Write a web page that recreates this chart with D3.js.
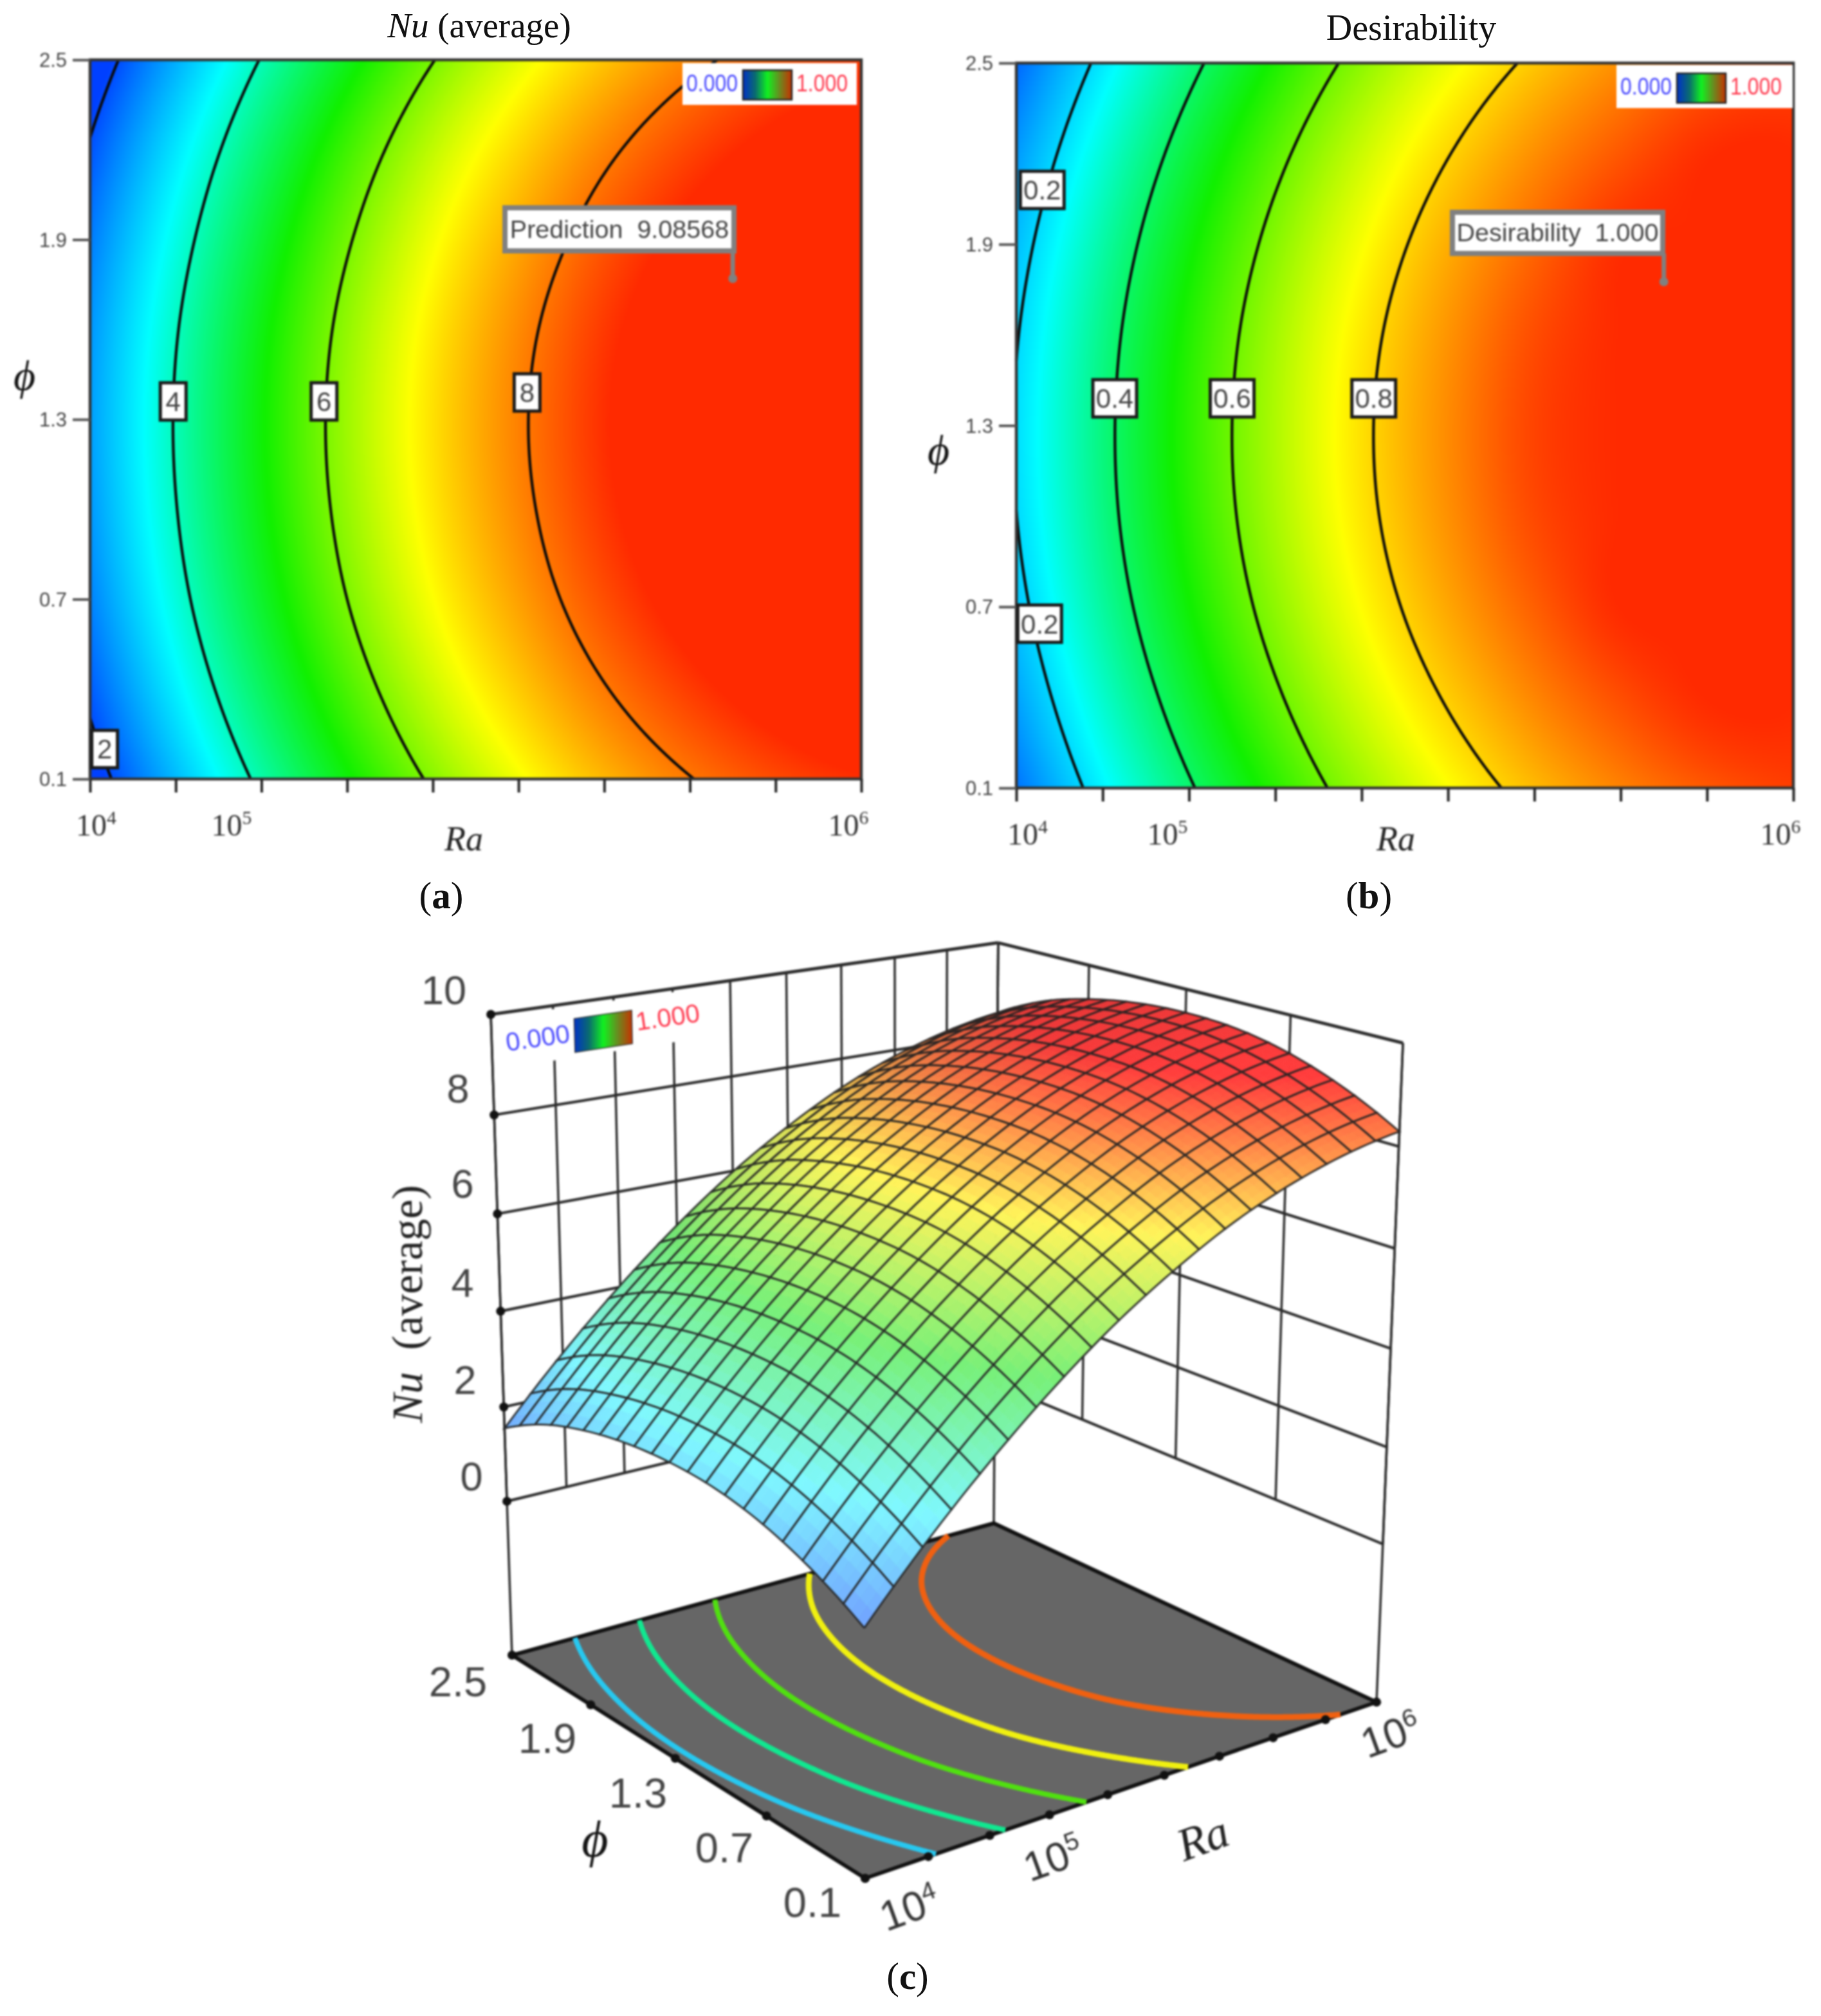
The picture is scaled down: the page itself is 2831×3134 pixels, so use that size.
<!DOCTYPE html>
<html><head><meta charset="utf-8">
<script src="https://cdn.jsdelivr.net/npm/d3@7/dist/d3.min.js"></script>
<style>
html,body{margin:0;padding:0;background:#fff}
svg{display:block}
.blur{filter:blur(1.5px)}
</style></head><body>
<script>
// ---------- data ----------
const raTicks=[0,1,2,3,4,5,6,7,8,9];
const phiTicks=[0.1,0.7,1.3,1.9,2.5];
const zTicks=[0,2,4,6,8,10];
const phiGrid=[0.1,0.4,0.7,1.0,1.3,1.6,1.9,2.2,2.5];
// Nu (average): one row per phi value, one column per Ra tick
const nuPhi01=[1.66,2.97,4.14,5.18,6.09,6.85,7.49,7.98,8.34,8.57];
const nuPhi04=[2.14,3.45,4.62,5.66,6.57,7.33,7.97,8.46,8.82,9.05];
const nuPhi07=[2.48,3.79,4.96,6.00,6.91,7.67,8.31,8.80,9.16,9.39];
const nuPhi10=[2.67,3.98,5.15,6.19,7.10,7.86,8.50,8.99,9.35,9.58];
const nuPhi13=[2.73,4.04,5.21,6.25,7.16,7.92,8.56,9.05,9.41,9.64];
const nuPhi16=[2.65,3.96,5.13,6.17,7.08,7.84,8.48,8.97,9.33,9.56];
const nuPhi19=[2.42,3.73,4.90,5.94,6.85,7.61,8.25,8.74,9.10,9.33];
const nuPhi22=[2.06,3.37,4.54,5.58,6.49,7.25,7.89,8.38,8.74,8.97];
const nuPhi25=[1.55,2.86,4.03,5.07,5.98,6.74,7.38,7.87,8.23,8.46];
const nuRows=[nuPhi01,nuPhi04,nuPhi07,nuPhi10,nuPhi13,nuPhi16,nuPhi19,nuPhi22,nuPhi25];
const surfaceShift=[-.28,-.20,-.15,-.12,-.12,-.10,-.05,0,0];
const surfRows=nuRows.map((r,i)=>r.map(v=>v+surfaceShift[i]));
// floor contours of panel (c), read relative to the same table, per phi row
const floorShift=[-.17,-.13,-.09,-.07,-.05,-.03,-.01,0,0];
const floorRows=nuRows.map((r,i)=>r.map(v=>v+floorShift[i]));
// Desirability
const dPhi01=[.066,.237,.390,.526,.645,.746,.830,.896,.945,.977];
const dPhi04=[.128,.299,.452,.588,.707,.808,.892,.958,1,1];
const dPhi07=[.173,.344,.497,.633,.752,.853,.937,1,1,1];
const dPhi10=[.199,.370,.523,.659,.778,.879,.963,1,1,1];
const dPhi13=[.206,.377,.530,.666,.785,.886,.970,1,1,1];
const dPhi16=[.195,.366,.519,.655,.774,.875,.959,1,1,1];
const dPhi19=[.165,.336,.489,.625,.744,.845,.929,.995,1,1];
const dPhi22=[.117,.288,.441,.577,.696,.797,.881,.947,.996,1];
const dPhi25=[.051,.222,.375,.511,.630,.731,.815,.881,.930,.962];
const dRows=[dPhi01,dPhi04,dPhi07,dPhi10,dPhi13,dPhi16,dPhi19,dPhi22,dPhi25];
const nuLevels=[2,4,6,8];
const dLevels=[0.2,0.4,0.6,0.8];
const floorLevels=[2.95,4.25,5.6,6.97,8.25];
const floorColors=['#27c8f0','#10e890','#50e010','#f0f010','#f06010'];
const rainbow=['#0040ff','#00ffff','#10f000','#ffff00','#ff2a00'];
const nuStops=[1.9,3.575,5.25,6.925,8.6];
const dStops=[0,0.25,0.5,0.75,1];
const surfStops=[1,3,5,7,9];
const surfColors=['#6e8cff','#7ff8ff','#78f078','#fff45a','#ff3c3c'];
const legendStops=['#0030c8','#0a6a70','#10f020','#6a8a20','#c83000'];
const nuLabels=[{t:'2',ra:.17,phi:.20},{t:'4',ra:.97,phi:1.36},{t:'6',ra:2.73,phi:1.36},{t:'8',ra:5.10,phi:1.39}];
const dLabels=[{t:'0.2',ra:.30,phi:2.08},{t:'0.2',ra:.27,phi:.644},{t:'0.4',ra:1.14,phi:1.39},{t:'0.6',ra:2.5,phi:1.39},{t:'0.8',ra:4.14,phi:1.39}];
const raLabelsA=[{e:'4',ra:.07},{e:'5',ra:1.65},{e:'6',ra:8.85}];
const raLabelsB=[{e:'4',ra:.13},{e:'5',ra:1.75},{e:'6',ra:8.85}];

// ---------- helpers ----------
const svg=d3.select('body').append('svg').attr('width',2831).attr('height',3134).attr('viewBox','0 0 2831 3134');
const SANS='"Liberation Sans",Arial,sans-serif', SERIF='"Liberation Serif","Times New Roman",serif';
function cr(p0,p1,p2,p3,t){return .5*((2*p1)+(-p0+p2)*t+(2*p0-5*p1+4*p2-p3)*t*t+(-p0+3*p1-3*p2+p3)*t*t*t);}
function field(rows,col,rowIdx){
  const nr=rows.length,nc=rows[0].length;
  const ci=Math.min(Math.floor(col),nc-2), ri=Math.min(Math.floor(rowIdx),nr-2);
  const tc=col-ci, tr=rowIdx-ri;
  const atR=(r,c)=>r<0?3*rows[0][c]-3*rows[1][c]+rows[2][c]:r>nr-1?3*rows[nr-1][c]-3*rows[nr-2][c]+rows[nr-3][c]:rows[r][c];
  const at=(r,c)=>c<0?3*atR(r,0)-3*atR(r,1)+atR(r,2):c>nc-1?3*atR(r,nc-1)-3*atR(r,nc-2)+atR(r,nc-3):atR(r,c);
  const col4=[-1,0,1,2].map(d=>cr(at(ri+d,ci-1),at(ri+d,ci),at(ri+d,ci+1),at(ri+d,ci+2),tc));
  return cr(col4[0],col4[1],col4[2],col4[3],tr);
}
const rowOf=d3.scaleLinear([0.1,2.5],[0,8]);
function contourRuns(rows,level){
  const nx=361,ny=321,vals=new Float64Array(nx*ny);
  for(let j=0;j<ny;j++)for(let i=0;i<nx;i++)vals[j*nx+i]=field(rows,i/(nx-1)*9,j/(ny-1)*8);
  const cs=d3.contours().size([nx,ny]).thresholds([level])(Array.from(vals))[0];
  const inside=p=>p[0]>.4&&p[0]<nx-.4&&p[1]>.4&&p[1]<ny-.4;
  const toData=p=>[Math.max(0,Math.min(9,(p[0]-.5)/(nx-1)*9)),rowOf.invert(Math.max(0,Math.min(8,(p[1]-.5)/(ny-1)*8)))];
  const runs=[];
  cs.coordinates.forEach(poly=>poly.forEach(ring=>{
    let start=ring.findIndex(p=>!inside(p));
    if(start<0){runs.push(ring.map(toData));return;}
    let cur=[];
    for(let k=0;k<ring.length;k++){
      const p=ring[(start+k)%ring.length];
      if(inside(p))cur.push(toData(p));
      else{if(cur.length>1)runs.push(cur);cur=[];}
    }
    if(cur.length>1)runs.push(cur);
  }));
  return runs;
}
function powerLabel(sel,x,y,e,size,font,extra){
  const t=sel.append('text').attr('x',x).attr('y',y).attr('text-anchor','middle')
    .attr('font-family',font).attr('font-size',size).attr('fill','#333');
  if(extra)t.attr('transform',extra);
  t.append('tspan').text('10');
  t.append('tspan').attr('dy',-size*.38).attr('font-size',size*.62).text(e);
  return t;
}
const defs=svg.append('defs');
const legendGrad=defs.append('linearGradient').attr('id','legendGrad').attr('x1',0).attr('x2',1).attr('y1',0).attr('y2',0);
legendStops.forEach((c,i)=>legendGrad.append('stop').attr('offset',i/4).attr('stop-color',c));

// ---------- 2-D panels ----------
function panel(cfg){
  const g=svg.append('g');
  const x=d3.scaleLinear([0,9],[cfg.left,cfg.right]), y=d3.scaleLinear([0.1,2.5],[cfg.bottom,cfg.top]);
  const color=d3.scaleLinear().domain(cfg.stops).range(rainbow).clamp(true);
  const w=Math.round((cfg.right-cfg.left)/2), h=Math.round((cfg.bottom-cfg.top)/2);
  const cv=document.createElement('canvas');cv.width=w;cv.height=h;
  const ctx=cv.getContext('2d'),img=ctx.createImageData(w,h);
  for(let j=0;j<h;j++)for(let i=0;i<w;i++){
    const v=field(cfg.rows,(i+.5)/w*9,8-(j+.5)/h*8), c=d3.rgb(color(v)), o=4*(j*w+i);
    img.data[o]=c.r;img.data[o+1]=c.g;img.data[o+2]=c.b;img.data[o+3]=255;
  }
  ctx.putImageData(img,0,0);
  const b=g.append('g').attr('class','blur');
  b.append('image').attr('x',cfg.left).attr('y',cfg.top).attr('width',cfg.right-cfg.left).attr('height',cfg.bottom-cfg.top)
    .attr('preserveAspectRatio','none').attr('href',cv.toDataURL());
  const line=d3.line().x(d=>x(d[0])).y(d=>y(d[1]));
  cfg.levels.forEach(l=>contourRuns(cfg.rows,l).forEach(r=>b.append('path').attr('d',line(r)).attr('fill','none').attr('stroke','#0a0a0a').attr('stroke-width',4.4)));
  // frame + axes
  b.append('rect').attr('x',cfg.left).attr('y',cfg.top).attr('width',cfg.right-cfg.left).attr('height',cfg.bottom-cfg.top)
    .attr('fill','none').attr('stroke','#333').attr('stroke-width',4.5);
  b.append('g').attr('transform',`translate(0,${cfg.bottom})`).call(d3.axisBottom(x).tickValues(raTicks).tickSize(21).tickFormat('')).call(a=>{a.select('.domain').remove();a.selectAll('line').attr('stroke','#222').attr('stroke-width',4);});
  b.append('g').attr('transform',`translate(${cfg.left},0)`).call(d3.axisLeft(y).tickValues(phiTicks).tickSize(27).tickFormat('')).call(a=>{a.select('.domain').remove();a.selectAll('line').attr('stroke','#555').attr('stroke-width',4);});
  phiTicks.forEach(v=>b.append('text').attr('x',cfg.left-36).attr('y',y(v)+11).attr('text-anchor','end').attr('font-family',SANS).attr('font-size',31).attr('fill','#444').text(d3.format('.1f')(v)));
  cfg.raLabels.forEach(l=>powerLabel(b,x(l.ra),cfg.bottom+88,l.e,48,SERIF));
  b.append('text').attr('x',cfg.raTitle[0]).attr('y',cfg.raTitle[1]).attr('text-anchor','middle').attr('font-family',SERIF).attr('font-style','italic').attr('font-size',54).attr('fill','#222').text('Ra');
  b.append('text').attr('x',cfg.phiTitle[0]).attr('y',cfg.phiTitle[1]).attr('text-anchor','middle').attr('font-family',SERIF).attr('font-style','italic').attr('font-size',66).attr('fill','#111').text('ϕ');
  // contour labels
  cfg.labels.forEach(l=>{
    const bw=l.t.length>1?68:40,bh=58,cx=x(l.ra),cy=y(l.phi);
    b.append('rect').attr('x',cx-bw/2).attr('y',cy-bh/2).attr('width',bw).attr('height',bh).attr('fill','#fff').attr('stroke','#1a1a1a').attr('stroke-width',5);
    b.append('text').attr('x',cx).attr('y',cy+15).attr('text-anchor','middle').attr('font-family',SANS).attr('font-size',42).attr('fill','#444').text(l.t);
  });
  // legend
  const L=cfg.legend;
  b.append('rect').attr('x',L.x).attr('y',L.y).attr('width',L.w).attr('height',L.h).attr('fill','#fff');
  b.append('rect').attr('x',L.gx).attr('y',L.gy).attr('width',76).attr('height',46).attr('fill','url(#legendGrad)').attr('stroke','#222').attr('stroke-width',2.5);
  const legText=(s,px,col)=>b.append('text').attr('x',px).attr('y',L.gy+33).attr('text-anchor','middle').attr('font-family',SANS).attr('font-size',37)
    .attr('textLength',80).attr('lengthAdjust','spacingAndGlyphs').attr('fill',col).text(s);
  legText('0.000',L.gx-48,'#4b4bff');
  legText('1.000',L.gx+123,'#ff3b50');
  // prediction flag
  const P=cfg.flag, px=x(P.ra), py=y(P.phi);
  b.append('line').attr('x1',px).attr('x2',px).attr('y1',P.y+P.h).attr('y2',py).attr('stroke','#808080').attr('stroke-width',7);
  b.append('circle').attr('cx',px).attr('cy',py).attr('r',7).attr('fill','#808080');
  b.append('rect').attr('x',P.x).attr('y',P.y).attr('width',P.w).attr('height',P.h).attr('fill','#fff').attr('stroke','#808080').attr('stroke-width',8);
  b.append('text').attr('x',P.x+P.w/2).attr('y',P.y+P.h/2+13).attr('text-anchor','middle').attr('font-family',SANS).attr('font-size',39.5).attr('fill','#444').text(P.t);
}
panel({left:140,right:1339,top:93,bottom:1211,rows:nuRows,stops:nuStops,levels:nuLevels,labels:nuLabels,raLabels:raLabelsA,
  raTitle:[721,1322],phiTitle:[38,606],
  legend:{x:1061,y:98,w:271,h:65,gx:1155,gy:109},
  flag:{x:785,y:323,w:356,h:67,ra:7.5,phi:1.77,t:'Prediction\u00a0\u00a09.08568'}});
panel({left:1580,right:2788,top:98,bottom:1225,rows:dRows,stops:dStops,levels:dLevels,labels:dLabels,raLabels:raLabelsB,
  raTitle:[2170,1322],phiTitle:[1459,722],
  legend:{x:2513,y:101,w:274,h:67,gx:2607,gy:114},
  flag:{x:2258,y:330,w:327,h:64,ra:7.5,phi:1.776,t:'Desirability\u00a0\u00a01.000'}});

// titles & captions (crisp)
const tA=svg.append('text').attr('x',745).attr('y',58).attr('text-anchor','middle').attr('font-family',SERIF).attr('font-size',55).attr('fill','#111');
tA.append('tspan').attr('font-style','italic').text('Nu');tA.append('tspan').text(' (average)');
svg.append('text').attr('x',2194).attr('y',62).attr('text-anchor','middle').attr('font-family',SERIF).attr('font-size',56).attr('fill','#111').text('Desirability');
[['a',686,1412],['b',2128,1412],['c',1411,3092]].forEach(([c,px,py])=>{
  const t=svg.append('text').attr('x',px).attr('y',py).attr('text-anchor','middle').attr('font-family',SERIF).attr('font-size',59).attr('fill','#111');
  t.append('tspan').text('(');t.append('tspan').attr('font-weight','bold').text(c);t.append('tspan').text(')');
});

// ---------- 3-D panel ----------
const F=[1345,2920],R=[2140,2646],B=[1545,2368],Lc=[796,2573],topY=1577,VP=[1405,20974];
const dx1=R[0]-B[0],dx2=Lc[0]-B[0],dy1=R[1]-B[1],dy2=Lc[1]-B[1],sx=F[0]-R[0]+B[0]-Lc[0],sy=F[1]-R[1]+B[1]-Lc[1];
const den=dx1*dy2-dx2*dy1,hG=(sx*dy2-dx2*sy)/den,hH=(dx1*sy-sx*dy1)/den;
const hA=R[0]-F[0]+hG*R[0],hB=Lc[0]-F[0]+hH*Lc[0],hC=F[0],hD=R[1]-F[1]+hG*R[1],hE=Lc[1]-F[1]+hH*Lc[1],hF=F[1];
const lam=(topY*(hH+1)-(hE+hF))/(VP[1]-topY);
const uS=d3.scaleLinear([0,9],[0,1]),vS=d3.scaleLinear([0.1,2.5],[0,1]),wS=d3.scaleLinear([-3.33,10],[0,1]);
function project(ra,phi,z){
  const u=uS(ra),v=vS(phi),w=wS(z),hw=hG*u+hH*v+1+w*lam;
  return [(hA*u+hB*v+hC+w*lam*VP[0])/hw,(hD*u+hE*v+hF+w*lam*VP[1])/hw];
}
const c3=svg.append('g').attr('class','blur');
const seg=(a,b,sw,col)=>c3.append('line').attr('x1',a[0]).attr('y1',a[1]).attr('x2',b[0]).attr('y2',b[1]).attr('stroke',col||'#2a2a2a').attr('stroke-width',sw);
const Z0=-3.33;
// walls
zTicks.forEach(z=>{const sw=z===10?5:4.2;seg(project(0,2.5,z),project(9,2.5,z),sw);seg(project(9,2.5,z),project(9,.1,z),sw);});
raTicks.forEach(r=>seg(project(r,2.5,0),project(r,2.5,10),3.5));
phiTicks.forEach(p=>seg(project(9,p,0),project(9,p,10),3.5));
[[0,2.5],[9,2.5],[9,.1]].forEach(([r,p])=>seg(project(r,p,Z0),project(r,p,10),3.5));
// legend on the wall
const wallPoly=(r0,r1,z0,z1)=>[project(r0,2.5,z0),project(r1,2.5,z0),project(r1,2.5,z1),project(r0,2.5,z1)].map(p=>p.join(',')).join(' ');
c3.append('polygon').attr('points',wallPoly(.06,3.4,8.9,9.93)).attr('fill','#fff');
c3.append('polygon').attr('points',wallPoly(1.34,2.30,9.0,9.68)).attr('fill','url(#legendGrad)').attr('stroke','#333').attr('stroke-width',1.5);
[['0.000',838,1627,'#4b4bff'],['1.000',1040,1595,'#ff3b50']].forEach(([t,px,py,col])=>
  c3.append('text').attr('x',px).attr('y',py).attr('text-anchor','middle').attr('font-family',SANS).attr('font-size',40).attr('fill',col).attr('transform',`rotate(-8.4 ${px} ${py})`).text(t));
// floor
const floorPts=[[0,.1],[9,.1],[9,2.5],[0,2.5]].map(([r,p])=>project(r,p,Z0));
c3.append('polygon').attr('points',floorPts.map(p=>p.join(',')).join(' ')).attr('fill','#666').attr('stroke','#111').attr('stroke-width',6);
const floorLine=d3.line().x(d=>project(d[0],d[1],Z0)[0]).y(d=>project(d[0],d[1],Z0)[1]);
floorLevels.forEach((l,i)=>contourRuns(floorRows,l).forEach(r=>c3.append('path').attr('d',floorLine(r)).attr('fill','none').attr('stroke',floorColors[i]).attr('stroke-width',i>2?9:8)));
const dot=p=>c3.append('circle').attr('cx',p[0]).attr('cy',p[1]).attr('r',7).attr('fill','#111');
raTicks.forEach(r=>dot(project(r,.1,Z0)));
phiTicks.forEach(p=>dot(project(0,p,Z0)));
zTicks.forEach(z=>dot(project(0,2.5,z)));
// surface
const surfColor=d3.scaleLinear().domain(surfStops).range(surfColors).clamp(true);
const N=20,SUB=3,sg=c3.append('g');
const pt=(a,b)=>{const ra=a/N*9,rIdx=b/N*8;return project(ra,rowOf.invert(rIdx),field(surfRows,ra,rIdx));};
const pathOf=ps=>'M'+ps.map(p=>p[0].toFixed(1)+','+p[1].toFixed(1)).join('L');
for(let i=N-1;i>=0;i--)for(let j=N-1;j>=0;j--){
  for(let a=0;a<SUB;a++)for(let b=0;b<SUB;b++){
    const a0=i+a/SUB,a1=i+(a+1)/SUB,b0=j+b/SUB,b1=j+(b+1)/SUB;
    const q=[pt(a0,b0),pt(a1,b0),pt(a1,b1),pt(a0,b1)];
    const area=Math.abs(d3.polygonArea(q));
    const v=field(surfRows,(a0+a1)/2/N*9,(b0+b1)/2/N*8);
    const shade=.86+.14*Math.min(1,area/130);
    const c=d3.rgb(surfColor(v));
    const col=d3.rgb(c.r*shade,c.g*shade,c.b*shade).formatHex();
    sg.append('path').attr('d',pathOf(q)+'Z').attr('fill',col).attr('stroke',col).attr('stroke-width',.8);
  }
  const edge=[];
  for(let a=0;a<=SUB;a++)edge.push(pt(i+a/SUB,j));
  for(let b=1;b<=SUB;b++)edge.push(pt(i+1,j+b/SUB));
  for(let a=SUB-1;a>=0;a--)edge.push(pt(i+a/SUB,j+1));
  for(let b=SUB-1;b>=0;b--)edge.push(pt(i,j+b/SUB));
  sg.append('path').attr('d',pathOf(edge)).attr('fill','none').attr('stroke','#222').attr('stroke-width',3).attr('stroke-opacity',.9);
}
// 3-D axis text
const zLab=[['0',733,2295],['2',723,2145],['4',719,1994],['6',719,1840],['8',712,1692],['10',690,1539]];
zLab.forEach(([t,px,py])=>c3.append('text').attr('x',px).attr('y',py+22).attr('text-anchor','middle').attr('font-family',SANS).attr('font-size',63).attr('fill','#444').text(t));
const phiLab=[['0.1',1263,2957],['0.7',1126,2872],['1.3',992,2787],['1.9',851,2702],['2.5',712,2614]];
phiLab.forEach(([t,px,py])=>c3.append('text').attr('x',px).attr('y',py+23).attr('text-anchor','middle').attr('font-family',SANS).attr('font-size',65).attr('fill','#444').text(t));
[['4',1422,2987],['5',1645,2910],['6',2170,2718]].forEach(([e,px,py])=>powerLabel(c3,px,py,e,64,SANS,`rotate(-20 ${px} ${py})`));
c3.append('text').attr('x',1878).attr('y',2880).attr('text-anchor','middle').attr('font-family',SERIF).attr('font-style','italic').attr('font-size',72).attr('fill','#222').attr('transform','rotate(-20 1878 2880)').text('Ra');
c3.append('text').attr('x',925).attr('y',2886).attr('text-anchor','middle').attr('font-family',SERIF).attr('font-style','italic').attr('font-size',80).attr('fill','#111').text('ϕ');
const zt=c3.append('text').attr('transform','translate(656,2027) rotate(-90)').attr('text-anchor','middle').attr('font-family',SERIF).attr('font-size',68).attr('fill','#222');
zt.append('tspan').attr('font-style','italic').text('Nu');zt.append('tspan').text('\u00a0\u00a0(average)');
</script>
</body></html>
